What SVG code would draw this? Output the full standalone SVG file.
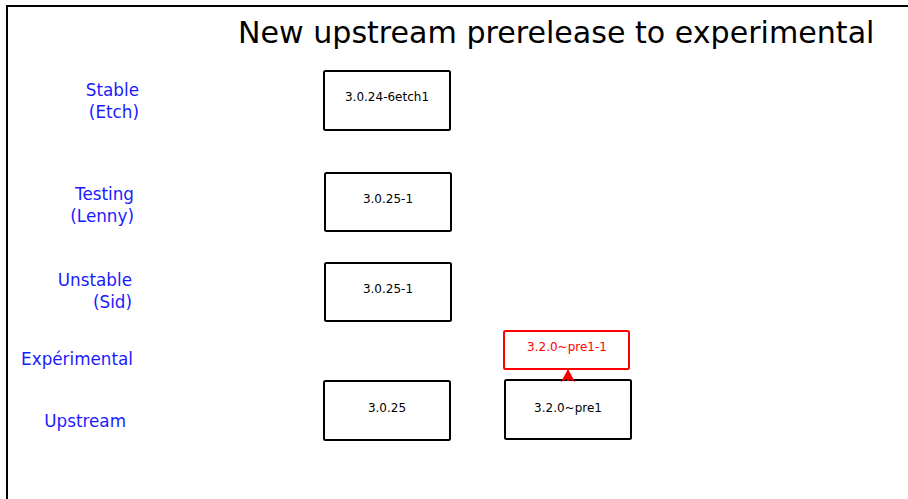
<svg xmlns="http://www.w3.org/2000/svg" width="908" height="499" viewBox="0 0 908 499">
<style>
.lbl{font-family:"DejaVu Sans",sans-serif;font-size:16.8px;fill:#1a1aff;text-anchor:end}
.box{fill:#fff;stroke:#000;stroke-width:2}
.rbox{fill:#fff;stroke:#ff0000;stroke-width:2}
.bt{font-family:"DejaVu Sans",sans-serif;font-size:12px;fill:#000;text-anchor:middle}
.rt{font-family:"DejaVu Sans",sans-serif;font-size:12px;fill:#ff0000;text-anchor:middle}
</style>
<defs>
<marker id="ah" viewBox="0 0 13 14" refX="13" refY="7" markerWidth="13" markerHeight="14" markerUnits="userSpaceOnUse" orient="auto">
<path d="M13,7 L0,0 L3.5,7 L0,14 Z" fill="#ff0000"/>
</marker>
</defs>
<rect x="0" y="0" width="908" height="499" fill="#fff"/>
<rect x="7" y="6" width="1000" height="600" fill="none" stroke="#000" stroke-width="2"/>
<text x="238" y="43" font-family="DejaVu Sans, sans-serif" font-size="30.1" fill="#000">New upstream prerelease to experimental</text>
<g id="labels">
<text class="lbl" x="139" y="96">Stable</text>
<text class="lbl" x="139" y="118">(Etch)</text>
<text class="lbl" x="134" y="200">Testing</text>
<text class="lbl" x="134" y="222">(Lenny)</text>
<text class="lbl" x="132" y="286">Unstable</text>
<text class="lbl" x="132" y="308">(Sid)</text>
<text class="lbl" x="133" y="365">Expérimental</text>
<text class="lbl" x="126" y="427">Upstream</text>
</g>
<g id="stable">
<rect class="box" x="324" y="71" width="126" height="59" rx="1.5"/>
<text class="bt" x="387" y="101">3.0.24-6etch1</text>
</g>
<g id="testing">
<rect class="box" x="325" y="173" width="126" height="58" rx="1.5"/>
<text class="bt" x="388" y="203">3.0.25-1</text>
</g>
<g id="unstable">
<rect class="box" x="325" y="263" width="126" height="58" rx="1.5"/>
<text class="bt" x="388" y="293">3.0.25-1</text>
</g>
<g id="upstream">
<rect class="box" x="324" y="381" width="126" height="59" rx="1.5"/>
<text class="bt" x="387" y="412">3.0.25</text>
</g>
<g id="pre1">
<rect class="box" x="505" y="380" width="126" height="59" rx="1.5"/>
<text class="bt" x="568" y="412">3.2.0~pre1</text>
</g>
<g id="experimental">
<rect class="rbox" x="504" y="331" width="125" height="38" rx="1.5"/>
<text class="rt" x="567" y="351">3.2.0~pre1-1</text>
</g>
<g id="connectors">
<line x1="568" y1="381" x2="568" y2="369" stroke="#ff0000" stroke-width="2" marker-end="url(#ah)"/>
</g>
</svg>
